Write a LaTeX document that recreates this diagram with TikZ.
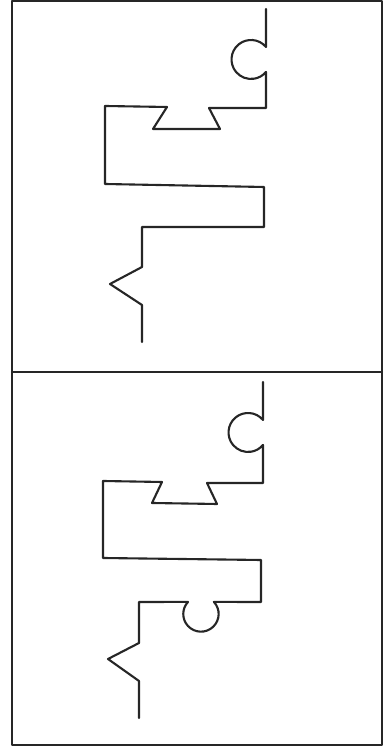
\documentclass[tikz,border=0pt]{standalone}
\begin{document}
\begin{tikzpicture}[x=0.02cm,y=0.02cm,
  edge/.style={line width=1.2pt,draw=black!85,line join=round,line cap=round}]
\useasboundingbox (0,0) rectangle (385,753);
% frame
\draw[edge] (12,752) rectangle (382,8);
\draw[edge] (12,381) -- (382,381);
% top piece
\draw[edge] (266,744) -- (266,706)
  arc[start angle=39.8,end angle=320.2,radius=0.39cm]
  -- (266,645) -- (209,645) -- (220,624) -- (153,624) -- (167,646)
  -- (105,647) -- (105,569) -- (264,566) -- (264,526) -- (142,526)
  -- (142,486) -- (110,469) -- (142,448) -- (142,411);
% bottom piece
\draw[edge] (263,371) -- (263,333)
  arc[start angle=39.8,end angle=320.2,radius=0.39cm]
  -- (263,270) -- (207,270) -- (217,249) -- (152,250) -- (162,271)
  -- (103,272) -- (103,195) -- (261,193) -- (261,151) -- (213.9,151.1)
  arc[start angle=43,end angle=-223,radius=0.354cm]
  -- (139,151) -- (139,110) -- (108,94) -- (139,72) -- (139,35);
\end{tikzpicture}
\end{document}
